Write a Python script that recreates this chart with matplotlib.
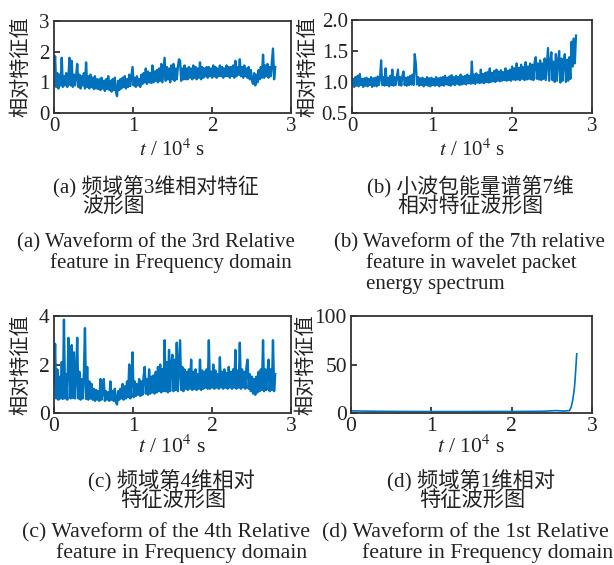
import numpy as np
import matplotlib
matplotlib.use("Agg")
import matplotlib.pyplot as plt

plt.rcParams['font.family'] = ['Liberation Serif', 'Noto Sans CJK SC', 'DejaVu Sans']
plt.rcParams['mathtext.fontset'] = 'stix'

# ---------------- data ----------------
vals_a = [
    1.45, 1.85, 0.85, 1.3, 0.8, 1.25, 0.9, 1.8, 0.85, 1.2, 0.9, 1.3, 0.85, 1.15, 1.8, 0.9, 1.7, 0.85, 1.25, 0.9,
    1.2, 1.6, 0.85, 1.25, 0.8, 1.2, 0.9, 1.3, 0.8, 1.65, 0.85, 1.2, 0.8, 1.25, 0.85, 1.15, 0.78, 1.2, 0.8, 1.1,
    0.78, 1.1, 0.75, 1.15, 0.8, 1.05, 0.72, 1.1, 0.78, 1.2, 0.75, 1.05, 0.7, 1.1, 0.75, 1.15, 0.68, 0.55, 1.05, 0.75,
    1.1, 0.8, 1.15, 0.85, 1.2, 0.8, 1.1, 0.85, 1.25, 0.88, 1.2, 1.5, 0.9, 1.15, 0.85, 1.2, 0.9, 1.1, 0.85, 1.25,
    0.95, 1.3, 1.0, 1.45, 0.95, 1.35, 1.0, 1.3, 0.98, 1.55, 1.0, 1.35, 1.05, 1.4, 1.0, 1.45, 1.05, 1.6, 1.0, 1.4,
    1.8, 1.05, 1.5, 1.1, 1.45, 1.0, 1.55, 1.1, 1.6, 1.05, 1.45, 1.1, 1.5, 1.75, 1.7, 1.05, 1.45, 1.1, 1.55, 1.1,
    1.45, 1.1, 1.5, 1.15, 1.45, 1.1, 1.55, 1.15, 1.5, 1.1, 1.45, 1.15, 1.65, 1.1, 1.5, 1.15, 1.45, 1.2, 1.5, 1.15,
    1.5, 1.2, 1.45, 1.15, 1.55, 1.2, 1.5, 1.15, 1.45, 1.2, 1.55, 1.2, 1.5, 1.15, 1.45, 1.2, 1.55, 1.2, 1.5, 1.15,
    1.5, 1.2, 1.55, 1.15, 1.7, 1.2, 1.5, 1.25, 1.75, 1.2, 1.5, 1.15, 1.55, 1.2, 1.45, 1.15, 1.5, 1.1, 1.4, 1.05,
    0.95, 1.3, 0.9, 1.25, 1.0, 1.4, 1.1, 1.5, 1.15, 1.9, 1.15, 1.55, 1.2, 1.6, 1.15, 1.5, 1.2, 1.65, 2.1, 1.1,
    1.5,
]

vals_b = [
    0.95, 1.05, 0.92, 1.08, 0.94, 1.1, 0.93, 1.13, 0.95, 1.05, 0.92, 1.06, 0.94, 1.07, 0.93, 1.05, 0.95, 1.08, 0.92, 1.06,
    0.94, 1.07, 0.93, 1.09, 0.95, 1.06, 1.35, 0.95, 1.08, 0.94, 1.22, 0.95, 1.07, 0.93, 1.1, 0.95, 1.2, 0.94, 1.08, 0.95,
    1.07, 1.2, 0.95, 1.08, 0.94, 1.1, 1.17, 0.95, 1.07, 0.94, 1.08, 0.95, 1.1, 0.96, 1.12, 0.95, 1.45, 1.3, 0.96, 1.08,
    0.94, 1.06, 0.95, 1.07, 0.93, 1.05, 0.95, 1.08, 0.94, 1.06, 0.93, 1.07, 0.95, 1.05, 0.94, 1.08, 0.95, 1.06, 0.93, 1.07,
    0.95, 1.08, 0.94, 1.1, 0.96, 1.07, 0.95, 1.09, 0.94, 1.11, 0.96, 1.08, 0.95, 1.1, 0.97, 1.08, 0.95, 1.12, 0.96, 1.09,
    0.97, 1.1, 0.96, 1.12, 0.98, 1.1, 0.97, 1.33, 0.98, 1.12, 0.97, 1.14, 0.99, 1.11, 0.98, 1.2, 0.99, 1.13, 0.98, 1.15,
    1.0, 1.16, 0.99, 1.22, 1.0, 1.15, 1.01, 1.18, 1.0, 1.2, 1.02, 1.17, 1.01, 1.19, 1.02, 1.16, 1.03, 1.22, 1.02, 1.18,
    1.03, 1.2, 1.02, 1.25, 1.04, 1.22, 1.03, 1.3, 1.04, 1.23, 1.03, 1.28, 1.05, 1.24, 1.03, 1.32, 1.04, 1.25, 1.05, 1.3,
    1.04, 1.28, 1.03, 1.32, 1.4, 1.05, 1.3, 1.04, 1.35, 1.03, 1.3, 1.05, 1.38, 1.03, 1.3, 1.55, 1.02, 1.32, 1.48, 1.03,
    1.33, 1.0, 1.45, 1.02, 1.35, 1.5, 0.99, 1.38, 1.02, 1.33, 1.45, 1.0, 1.36, 1.02, 1.4, 1.05, 1.65, 1.25, 1.7, 1.3,
    1.75,
]

vals_c = [
    1.2, 2.85, 0.6, 1.8, 0.55, 1.5, 0.6, 2.1, 0.58, 3.85, 0.6, 1.6, 0.55, 3.1, 2.0, 0.6, 2.8, 0.62, 2.5, 0.6,
    1.5, 3.1, 0.6, 1.7, 0.55, 1.4, 0.6, 1.6, 3.5, 0.58, 1.9, 0.55, 1.3, 0.6, 1.2, 0.55, 1.0, 0.5, 0.95, 0.55,
    0.9, 0.5, 1.4, 0.55, 0.85, 1.4, 0.5, 0.9, 0.55, 0.85, 0.5, 1.3, 0.55, 0.9, 0.5, 1.0, 0.45, 0.35, 0.9, 0.55,
    1.0, 0.6, 1.2, 0.55, 1.1, 0.6, 1.3, 0.65, 2.0, 0.6, 1.4, 2.5, 0.65, 1.3, 0.7, 1.2, 0.75, 1.4, 0.7, 1.3,
    0.75, 1.5, 1.9, 0.8, 1.4, 0.75, 1.8, 0.8, 1.5, 0.85, 1.55, 0.8, 1.7, 0.85, 1.9, 0.9, 2.0, 0.85, 1.8, 0.9,
    3.0, 0.9, 2.1, 0.85, 2.6, 0.9, 2.0, 2.4, 0.9, 2.2, 0.95, 2.9, 0.9, 2.0, 3.0, 0.95, 1.9, 0.9, 1.8, 1.0,
    1.7, 0.95, 1.8, 1.0, 2.2, 0.95, 1.7, 1.0, 1.8, 0.95, 1.6, 1.0, 2.2, 0.95, 1.75, 1.0, 1.7, 1.05, 1.8, 1.0,
    3.0, 1.0, 1.7, 1.05, 2.0, 1.0, 1.75, 1.05, 1.6, 1.0, 2.3, 1.05, 1.7, 1.0, 1.8, 1.05, 1.65, 1.0, 1.9, 1.05,
    1.7, 1.0, 1.8, 1.05, 2.6, 1.0, 1.75, 1.05, 2.9, 1.0, 1.8, 1.05, 1.7, 1.0, 1.9, 2.2, 1.0, 1.6, 0.9, 1.5,
    0.8, 1.4, 0.75, 1.5, 0.85, 1.7, 0.9, 1.8, 0.95, 3.0, 0.9, 1.8, 0.95, 1.7, 2.2, 0.9, 1.8, 0.95, 3.0, 0.9,
    1.6,
]

t_d = [0.0, 0.3, 0.6, 0.9, 1.2, 1.5, 1.8, 2.1, 2.4, 2.55, 2.65, 2.72, 2.74, 2.76, 2.78, 2.79, 2.80, 2.81]
vals_d = [2.2, 1.8, 1.6, 1.5, 1.5, 1.5, 1.6, 1.6, 1.8, 2.5, 2.0, 2.5, 6.0, 13.0, 25.0, 35.0, 48.0, 61.0]

t_end = 2.8
x_ticks = [0, 1, 2, 3]
y_ticks_a = [0, 1, 2, 3]
y_ticks_b = [0.5, 1.0, 1.5, 2.0]
y_ticks_c = [0, 2, 4]
y_ticks_d = [0, 50, 100]
ylab = "相对特征值"
xlab = r"$t$ / 10$^4$ s"

W, H = 614, 565
fig = plt.figure(figsize=(W / 100, H / 100), dpi=100)
color = '#0072BD'


def add_axes(l, r, t, b):
    return fig.add_axes([l / W, 1 - b / H, (r - l) / W, (b - t) / H])


def style(ax, yticks, ylim, ylab_x, xlab_y, fs, yfmt=None):
    ax.set_xlim(0, 3)
    ax.set_ylim(*ylim)
    ax.set_xticks(x_ticks)
    ax.set_yticks(yticks)
    if yfmt:
        ax.set_yticklabels([yfmt.format(v) for v in yticks])
    ax.tick_params(direction='in', length=4, width=1.2, top=False, right=False,
                   labelsize=fs, pad=3, colors='#222222')
    for s in ax.spines.values():
        s.set_linewidth(1.3)
        s.set_color('#333333')
    ax.set_ylabel(ylab, fontsize=14.5, family=['Noto Sans CJK SC'], color='#222222')
    ax.yaxis.set_label_coords(ylab_x, 0.5)
    ax.yaxis.label.set_va('center')
    ax.set_xlabel(xlab, fontsize=fs, color='#222222')
    ax.xaxis.set_label_coords(0.5, xlab_y)
    ax.xaxis.label.set_va('center')


ax_a = add_axes(54, 291, 21, 113)
ax_a.plot(np.linspace(0, t_end, len(vals_a)), vals_a, color=color, lw=1.7)
style(ax_a, y_ticks_a, (0, 3), -0.14, -0.40, 15)

ax_b = add_axes(352, 592, 20, 113)
ax_b.plot(np.linspace(0, t_end, len(vals_b)), vals_b, color=color, lw=1.6)
style(ax_b, y_ticks_b, (0.5, 2.0), -0.185, -0.40, 15, yfmt="{:.1f}")

ax_c = add_axes(54, 291, 316, 413)
ax_c.plot(np.linspace(0, t_end, len(vals_c)), vals_c, color=color, lw=1.7)
style(ax_c, y_ticks_c, (0, 4), -0.14, -0.35, 15.5)

ax_d = add_axes(351, 592, 316, 413)
ax_d.plot(t_d, vals_d, color=color, lw=1.2)
style(ax_d, y_ticks_d, (0, 100), -0.185, -0.35, 15.5)

# ---------------- captions ----------------
cap_font = ['Liberation Serif', 'Noto Sans CJK SC']


def cap(x, y, s, va, fs=15):
    fig.text(x / W, 1 - y / H, s, fontsize=fs, family=cap_font, ha='left', va=va, color='#222222')


cap(53, 187, "(a) 频域第3维相对特征", 'center')
cap(82, 207, "波形图", 'center')
cap(17, 247, "(a) Waveform of the 3rd Relative", 'baseline')
cap(50, 268, "feature in Frequency domain", 'baseline')

cap(367, 187, "(b) 小波包能量谱第7维", 'center')
cap(397, 207, "相对特征波形图", 'center')
cap(334, 247, "(b) Waveform of the 7th relative", 'baseline')
cap(366, 268, "feature in wavelet packet", 'baseline')
cap(366, 289, "energy spectrum", 'baseline')

cap(88, 481, "(c) 频域第4维相对", 'center', 15.3)
cap(120, 501, "特征波形图", 'center', 15.3)
cap(22, 537, "(c) Waveform of the 4th Relative", 'baseline', 15.7)
cap(56, 558, "feature in Frequency domain", 'baseline', 15.7)

cap(387, 481, "(d) 频域第1维相对", 'center', 15.3)
cap(419, 501, "特征波形图", 'center', 15.3)
cap(322, 537, "(d) Waveform of the 1st Relative", 'baseline', 15.7)
cap(362, 558, "feature in Frequency domain", 'baseline', 15.7)

fig.savefig("out.png", dpi=100)
